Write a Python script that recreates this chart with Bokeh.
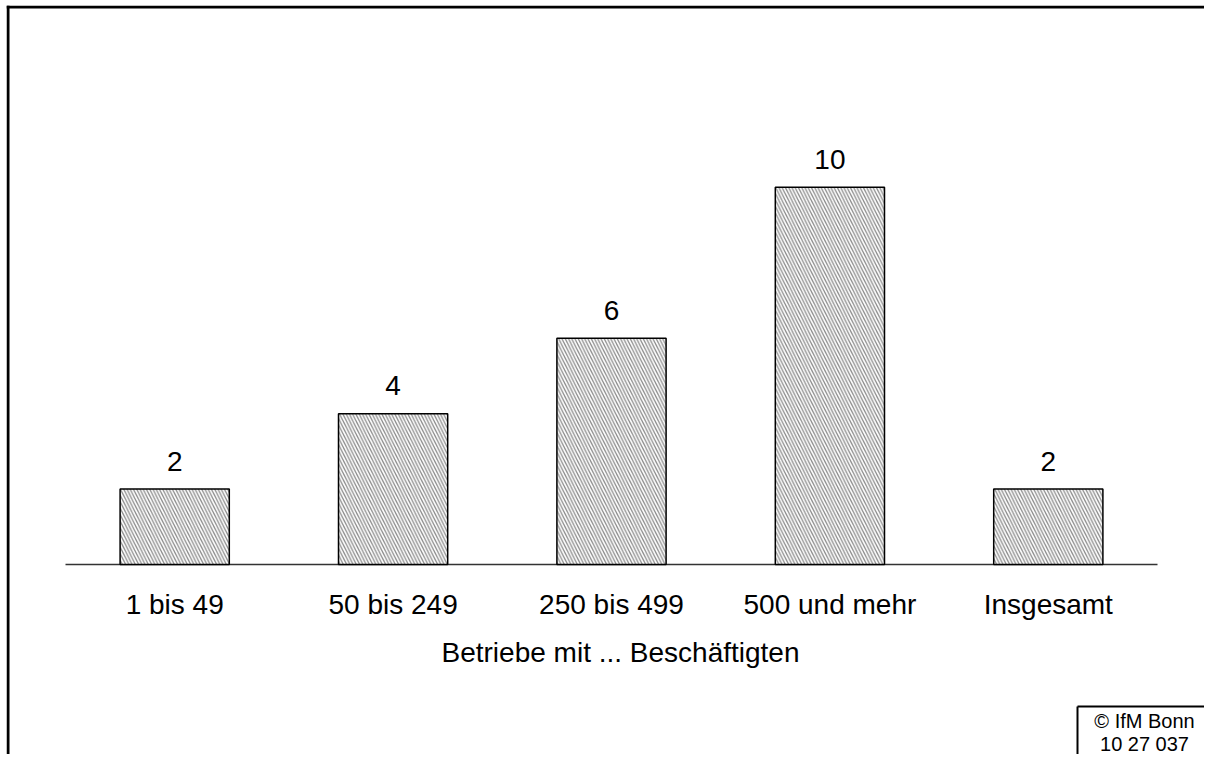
from bokeh.plotting import figure
from bokeh.models import ColumnDataSource, Range1d
from bokeh.core.properties import value
from bokeh.embed import file_html
from bokeh.resources import INLINE

# ---- data ----
categories = ["1 bis 49", "50 bis 249", "250 bis 499", "500 und mehr", "Insgesamt"]
values = [2, 4, 6, 10, 2]
value_labels = ["2", "4", "6", "10", "2"]
x_title = "Betriebe mit ... Beschäftigten"
note_lines = ["© IfM Bonn", "10 27 037"]

FONT = "Liberation Sans"

# ---- layout (pixels on the canvas) ----
W, H = 1198, 749
PAD_L, PAD_R = 59, 47          # canvas edge -> category band
BASE_Y = 559                   # baseline, from canvas top
PX_PER_UNIT = 37.714           # vertical scale
n = len(categories)
cat_w = (W - PAD_L - PAD_R) / n

x_start = -PAD_L / cat_w
x_end = n + PAD_R / cat_w
y_end = BASE_Y / PX_PER_UNIT
y_start = -(H - BASE_Y) / PX_PER_UNIT


def dx(px):   # canvas px -> data x
    return (px - PAD_L) / cat_w


def dy(py):   # canvas px (from top) -> data y
    return (BASE_Y - py) / PX_PER_UNIT


x_pos = [i + 0.5 for i in range(n)]
src = ColumnDataSource(dict(x=x_pos, cat=categories, val=values, lab=value_labels))

p = figure(x_range=Range1d(x_start, x_end), y_range=Range1d(y_start, y_end),
           width=W, height=H, min_border=0, output_backend="svg",
           toolbar_location=None, x_axis_location=None, y_axis_location=None)
p.outline_line_color = None
p.xgrid.grid_line_color = None
p.ygrid.grid_line_color = None
p.background_fill_color = "white"
p.border_fill_color = "white"

# outer frame of the graphic (left and top edges)
p.segment(x0=[dx(1.5), dx(0)], y0=[dy(0), dy(1.5)],
          x1=[dx(1.5), x_end + 1], y1=[y_start - 1, dy(1.5)],
          line_color="black", line_width=3)

# baseline (x axis line)
p.segment(x0=[0], y0=[0], x1=[n], y1=[0], line_color="#333333", line_width=1.5)

# bars
p.vbar(x="x", top="val", width=0.5, source=src,
       fill_color="white", line_color="black", line_width=1.5,
       hatch_pattern="\\", hatch_color="#8c8c8c", hatch_scale=6.5, hatch_weight=1.3)

# value labels
p.text(x="x", y="val", text="lab", source=src, text_align="center",
       text_baseline="alphabetic", y_offset=-28,
       text_font=value(FONT), text_font_size="28px", text_color="black")

# category labels
p.text(x="x", y=0, text="cat", source=src, text_align="center",
       text_baseline="alphabetic", y_offset=40,
       text_font=value(FONT), text_font_size="28px", text_color="black")

# axis title
p.text(x=[n / 2 + 9 / cat_w], y=[0], text=[x_title], text_align="center",
       text_baseline="alphabetic", y_offset=88,
       text_font=value(FONT), text_font_size="28px", text_color="black")

# source note box (left and top edges)
box_left, box_top = 1071, 701
p.segment(x0=[dx(box_left), dx(box_left)], y0=[dy(box_top), dy(box_top)],
          x1=[dx(box_left), x_end + 1], y1=[y_start - 1, dy(box_top)],
          line_color="black", line_width=2)
p.text(x=[dx(1138)] * 2, y=[dy(box_top)] * 2, text=note_lines,
       y_offset=[14, 37], text_align="center", text_baseline="alphabetic",
       text_font=value(FONT), text_font_size="20px", text_color="black")

p.styles = {"margin": "5px 0px 0px 6px"}

open("out.html", "w").write(file_html(p, INLINE))
